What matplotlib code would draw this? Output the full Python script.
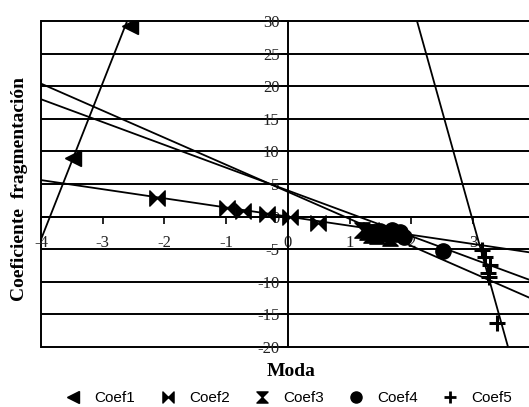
import numpy as np
import matplotlib
matplotlib.use("Agg")
import matplotlib.pyplot as plt
from matplotlib.path import Path

# ---- data ----
series_names = ["Coef1", "Coef2", "Coef3", "Coef4", "Coef5"]
coef1_x = [-3.48, -2.56]
coef1_y = [9.0, 29.2]
coef2_x = [-2.12, -0.99, -0.73, -0.34, 0.03, 0.49, 1.35, 1.55]
coef2_y = [2.85, 1.3, 0.85, 0.4, 0.0, -1.0, -2.1, -2.4]
coef3_x = [1.2, 1.28, 1.35, 1.4, 1.45, 1.65]
coef3_y = [-2.0, -2.4, -2.8, -2.3, -3.0, -3.3]
coef4_x = [1.5, 1.58, 1.68, 1.75, 1.82, 1.88, 2.51]
coef4_y = [-2.2, -2.6, -2.0, -2.7, -2.4, -3.1, -5.3]
coef5_x = [3.14, 3.19, 3.27, 3.24, 3.26, 3.39]
coef5_y = [-5.1, -6.2, -7.4, -8.7, -9.2, -16.3]
# linear trend lines (slope, intercept)
trend_slopes = [24.0, -1.40, -4.15, -3.5, -33.9]
trend_intercepts = [92.5, 0.0, 3.8, 4.0, 100.9]

x_ticks = [-4, -3, -2, -1, 0, 1, 2, 3]
y_ticks = [-20, -15, -10, -5, 0, 5, 10, 15, 20, 25, 30]
xlabel = "Moda"
ylabel = "Coeficiente  fragmentación"

# ---- markers ----
bowtie = Path([(-1, 1), (0, 0), (1, 1), (1, -1), (0, 0), (-1, -1), (-1, 1)],
              [Path.MOVETO] + [Path.LINETO] * 5 + [Path.CLOSEPOLY])
hourglass = Path([(-1, 1), (1, 1), (0, 0), (1, -1), (-1, -1), (0, 0), (-1, 1)],
                 [Path.MOVETO] + [Path.LINETO] * 5 + [Path.CLOSEPOLY])

xs = [coef1_x, coef2_x, coef3_x, coef4_x, coef5_x]
ys = [coef1_y, coef2_y, coef3_y, coef4_y, coef5_y]
markers = ["<", bowtie, hourglass, "o", "+"]
msizes = [11, 11, 11, 11, 11]

serif = "Liberation Serif"

fig = plt.figure(figsize=(5.29, 4.07), dpi=100)
ax = fig.add_axes([41 / 529, 60 / 407, 1 - 41 / 529, 326 / 407])
xmin, xmax = -4, 3.906
ax.set_xlim(xmin, xmax)
ax.set_ylim(-20, 30)

# horizontal gridlines (frame top/bottom included)
ax.hlines(y_ticks, xmin, xmax, colors="black", lw=1.4, clip_on=False, zorder=1)
ax.axvline(xmin, color="black", lw=1.4, clip_on=False, zorder=1)

# spines through zero
for s in ["top", "right"]:
    ax.spines[s].set_visible(False)
ax.spines["left"].set_position(("data", 0))
ax.spines["bottom"].set_position(("data", 0))
ax.spines["left"].set_linewidth(1.4)
ax.spines["bottom"].set_linewidth(1.4)

ax.set_xticks(x_ticks)
ax.set_yticks(y_ticks)
ax.set_xticklabels([str(t) for t in x_ticks])
ax.set_yticklabels([str(t) for t in y_ticks])
ax.tick_params(axis="x", direction="out", length=5, width=1.2, pad=8,
               labelsize=12, labelcolor="#222222")
ax.tick_params(axis="y", direction="out", length=5, width=1.2, pad=1,
               labelsize=12, labelcolor="#222222")
for lab in ax.get_xticklabels() + ax.get_yticklabels():
    lab.set_fontfamily(serif)

xl = np.array([xmin, xmax])
handles = []
for i in range(5):
    ax.plot(xl, trend_slopes[i] * xl + trend_intercepts[i], color="black", lw=1.3, zorder=2)
    mew = 2.2 if markers[i] == "+" else 1
    h, = ax.plot(xs[i], ys[i], linestyle="none", marker=markers[i], markersize=msizes[i],
                 color="black", mec="black", mew=mew, zorder=3, label=series_names[i])
    handles.append(h)

fig.text(20 / 529, 1 - 189 / 407, ylabel, rotation=90, ha="center", va="center",
         fontsize=14, fontweight="bold", fontfamily=serif)
fig.text(291 / 529, 1 - 372 / 407, xlabel, ha="center", va="center",
         fontsize=14, fontweight="bold", fontfamily=serif)

leg_handles = []
for i in range(5):
    mew = 2 if markers[i] == "+" else 1
    h, = plt.plot([], [], linestyle="none", marker=markers[i], markersize=8,
                  color="black", mew=mew, label=series_names[i])
    leg_handles.append(h)
fig.legend(handles=leg_handles, loc="center", bbox_to_anchor=(289 / 529, 1 - 398 / 407),
           ncol=5, frameon=False, fontsize=11, handletextpad=0.9, columnspacing=1.6,
           handlelength=1.0, prop={"family": "Liberation Sans", "size": 11})

fig.savefig("out.png", dpi=100)
